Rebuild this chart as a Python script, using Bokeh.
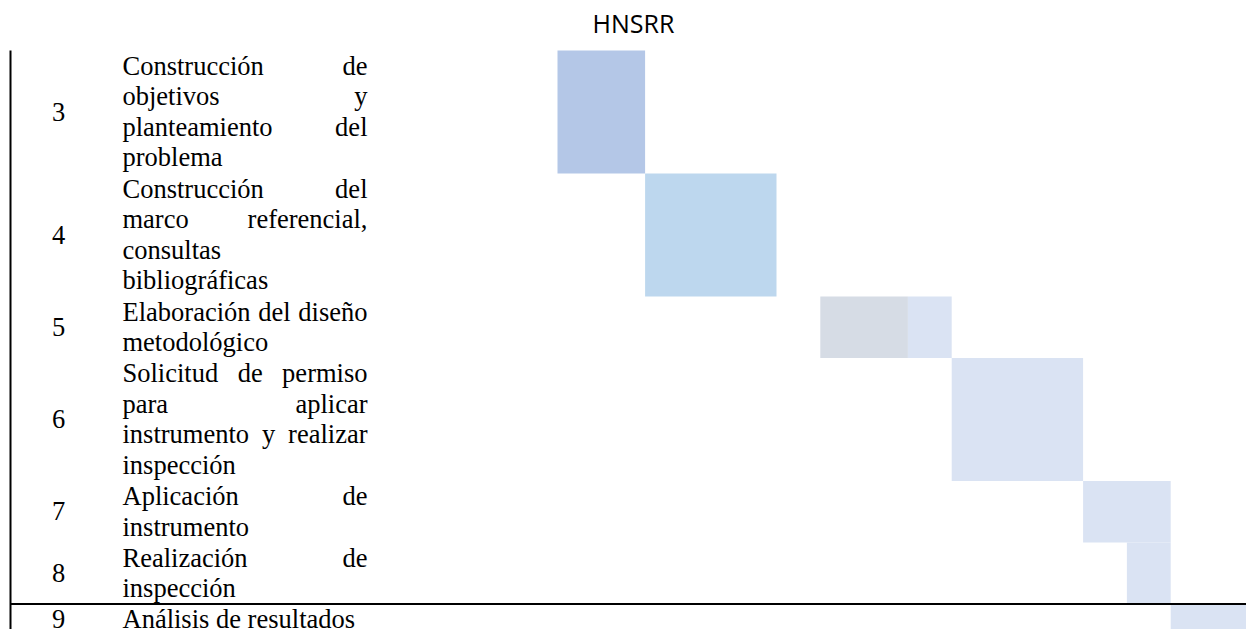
from bokeh.plotting import figure
from bokeh.models import Range1d, ColumnDataSource
from bokeh.embed import file_html
from bokeh.resources import INLINE
from bokeh.core.properties import value

# ---------------- data ----------------
chart_title = "HNSRR"
task_ids = ["3", "4", "5", "6", "7", "8", "9"]
task_lines = [
    ["Construcción de", "objetivos y", "planteamiento del", "problema"],
    ["Construcción del", "marco referencial,", "consultas", "bibliográficas"],
    ["Elaboración del diseño", "metodológico"],
    ["Solicitud de permiso", "para aplicar", "instrumento y realizar", "inspección"],
    ["Aplicación de", "instrumento"],
    ["Realización de", "inspección"],
    ["Análisis de resultados"],
]
# gantt cells (week columns)
bar_task = ["3", "4", "5", "5", "6", "7", "8", "9"]
bar_start = [0, 2, 6, 8, 9, 12, 13, 14]
bar_weeks = [2, 3, 2, 1, 3, 2, 1, 2]
bar_color = ["#B4C7E7", "#BDD7EE", "#D6DCE5", "#DAE3F3",
             "#DAE3F3", "#DAE3F3", "#DAE3F3", "#DAE3F3"]

# ---------------- layout ----------------
W, H = 1246, 629
COL_PX = 43.8        # px per week column
LINE_PX = 30.75      # px per row line unit
TEXT_LINE_PX = 30.5  # baseline-to-baseline
GRID_LEFT_PX = 557   # px where week 0 starts
GRID_TOP_PX = 50     # px where first row starts
FONT_PX = 26.5
LINE_W_PX = 245.0
SERIF_FIX = -9.5     # renderer baseline correction (px)
TITLE_FIX = -11.0

X0 = -GRID_LEFT_PX / COL_PX
Y0 = -GRID_TOP_PX / LINE_PX
x_range = Range1d(X0, X0 + W / COL_PX)
y_range = Range1d(Y0 + H / LINE_PX, Y0)

NUM_X = X0 + 58 / COL_PX
TEXT_LEFT = X0 + 122 / COL_PX
RULE_X = X0 + 10 / COL_PX
TITLE_X = X0 + 633 / COL_PX
TITLE_Y = Y0 + (33 + TITLE_FIX) / LINE_PX

# Times / Liberation Serif advance widths (per 1000 em)
CW = {'a': 444, 'b': 500, 'c': 444, 'd': 500, 'e': 444, 'f': 333, 'g': 500,
      'h': 500, 'i': 278, 'j': 278, 'k': 500, 'l': 278, 'm': 778, 'n': 500,
      'o': 500, 'p': 500, 'q': 500, 'r': 333, 's': 389, 't': 278, 'u': 500,
      'v': 500, 'w': 722, 'x': 500, 'y': 500, 'z': 444, 'á': 444, 'é': 444,
      'í': 278, 'ó': 500, 'ú': 500, 'ñ': 500, ',': 250, ' ': 250,
      'A': 722, 'C': 667, 'E': 611, 'R': 667, 'S': 556}


def wpx(s):
    return sum(CW.get(ch, 500) for ch in s) * FONT_PX / 1000.0


# row extents in line units
row_top, row_bot = {}, {}
acc = 0
for tid, lines in zip(task_ids, task_lines):
    row_top[tid] = acc
    acc += len(lines)
    row_bot[tid] = acc

last_id = task_ids[-1]

# text words
tx, ty, tt = [], [], []
for tid, lines in zip(task_ids, task_lines):
    for i, line in enumerate(lines):
        base = row_top[tid] + (24.5 + i * TEXT_LINE_PX + SERIF_FIX) / LINE_PX
        words = line.split(" ")
        last = (i == len(lines) - 1)
        if last or len(words) == 1:
            tx.append(TEXT_LEFT); ty.append(base); tt.append(line)
            continue
        widths = [wpx(w) for w in words]
        gap = (LINE_W_PX - sum(widths)) / (len(words) - 1)
        pos = 0.0
        for w, wd in zip(words, widths):
            tx.append(TEXT_LEFT + pos / COL_PX); ty.append(base); tt.append(w)
            pos += wd + gap

nx, ny = [], []
for tid in task_ids:
    nx.append(NUM_X)
    if tid == last_id:
        ny.append(row_top[tid] + (24.5 + SERIF_FIX) / LINE_PX)
    else:
        ny.append((row_top[tid] + row_bot[tid]) / 2 + (9 + SERIF_FIX) / LINE_PX)

bars = ColumnDataSource(dict(
    left=bar_start,
    right=[s + w for s, w in zip(bar_start, bar_weeks)],
    top=[row_top[t] for t in bar_task],
    bottom=[row_bot[t] for t in bar_task],
    color=bar_color,
))

p = figure(width=W, height=H, x_range=x_range, y_range=y_range,
           output_backend="svg", toolbar_location=None,
           x_axis_type=None, y_axis_type=None, min_border=0)
p.grid.visible = False
p.outline_line_color = None
p.background_fill_color = "white"
p.border_fill_color = "white"

p.quad(left="left", right="right", top="top", bottom="bottom",
       fill_color="color", line_color=None, source=bars)

total_lines = row_bot[last_id]
p.segment(x0=[RULE_X], y0=[0], x1=[RULE_X], y1=[total_lines + 1],
          line_color="black", line_width=2)
p.segment(x0=[RULE_X], y0=[row_top[last_id]], x1=[x_range.end], y1=[row_top[last_id]],
          line_color="black", line_width=2)

p.text(x=tx, y=ty, text=tt, text_font=value("Liberation Serif"),
       text_font_size=value(f"{FONT_PX}px"), text_align="left",
       text_baseline="alphabetic", text_color="black")
p.text(x=nx, y=ny, text=task_ids, text_font=value("Liberation Serif"),
       text_font_size=value(f"{FONT_PX}px"), text_align="center",
       text_baseline="alphabetic", text_color="black")
p.text(x=[TITLE_X], y=[TITLE_Y], text=[chart_title], text_font=value("Open Sans"),
       text_font_size=value("25px"), text_align="center",
       text_baseline="alphabetic", text_color="black")

open("out.html", "w").write(file_html(p, INLINE))
